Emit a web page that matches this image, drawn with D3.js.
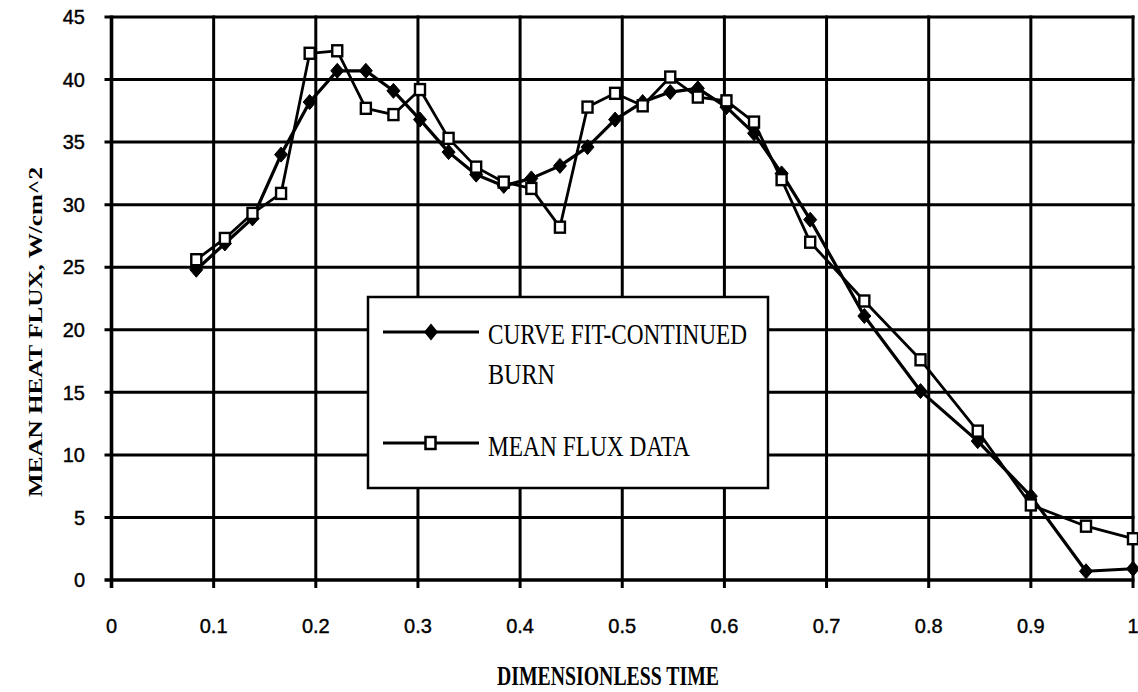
<!DOCTYPE html>
<html>
<head>
<meta charset="utf-8">
<script src="https://cdn.jsdelivr.net/npm/d3@7"></script>
<style>
  html, body { margin: 0; padding: 0; background: #fff; }
  svg { display: block; }
</style>
</head>
<body>
<svg id="chart" width="1138" height="692"></svg>
<script>
// Dimensionless time of each sample
const time = [0.083, 0.111, 0.138, 0.166, 0.194, 0.221, 0.249, 0.276, 0.302, 0.330,
              0.357, 0.384, 0.411, 0.439, 0.466, 0.493, 0.520, 0.547, 0.574, 0.602,
              0.629, 0.656, 0.684, 0.737, 0.792, 0.848, 0.900, 0.954, 1.000];
// Curve fit, continued burn (W/cm^2)
const curveFit = [24.8, 26.9, 28.9, 34.0, 38.2, 40.7, 40.7, 39.1, 36.8, 34.2,
                  32.4, 31.5, 32.1, 33.1, 34.6, 36.8, 38.2, 39.0, 39.3, 37.8,
                  35.7, 32.5, 28.8, 21.1, 15.1, 11.1, 6.7, 0.7, 0.9];
// Mean flux data (W/cm^2)
const meanFlux = [25.6, 27.3, 29.3, 30.9, 42.1, 42.3, 37.7, 37.2, 39.2, 35.3,
                  33.0, 31.8, 31.3, 28.2, 37.8, 38.9, 37.9, 40.2, 38.6, 38.3,
                  36.6, 32.0, 27.0, 22.3, 17.6, 11.9, 6.0, 4.3, 3.3];
const xTicks = [0, 0.1, 0.2, 0.3, 0.4, 0.5, 0.6, 0.7, 0.8, 0.9, 1];
const xTickLabels = ["0", "0.1", "0.2", "0.3", "0.4", "0.5", "0.6", "0.7", "0.8", "0.9", "1"];
const yTicks = [0, 5, 10, 15, 20, 25, 30, 35, 40, 45];
const seriesNames = ["CURVE FIT-CONTINUED", "BURN", "MEAN FLUX DATA"];

const svg = d3.select("#chart");
const plotLeft = 111.5, plotRight = 1133, plotTop = 17, plotBottom = 580;
const x = d3.scaleLinear().domain([0, 1]).range([plotLeft, plotRight]);
const y = d3.scaleLinear().domain([0, 45]).range([plotBottom, plotTop]);

const ink = "#000";
const sans = "'Liberation Sans', Arial, sans-serif";
const serif = "'Liberation Serif', 'Times New Roman', serif";

// Grid lines (vertical and horizontal) with short outside ticks
const grid = svg.append("g");
grid.append("g").selectAll("line").data(xTicks).join("line")
  .attr("x1", d => x(d)).attr("x2", d => x(d))
  .attr("y1", y(45) - 1.5).attr("y2", plotBottom + 8)
  .attr("stroke", ink).attr("stroke-width", d => d === 0 ? 3.6 : 3);
grid.append("g").selectAll("line").data(yTicks).join("line")
  .attr("y1", d => y(d)).attr("y2", d => y(d))
  .attr("x1", plotLeft - 7).attr("x2", plotRight + 1.5)
  .attr("stroke", ink).attr("stroke-width", d => d === 0 ? 3.4 : 3);

// Axis tick labels
svg.append("g").selectAll("text").data(xTicks).join("text")
  .attr("x", d => x(d)).attr("y", 633)
  .attr("text-anchor", "middle")
  .attr("font-family", sans).attr("font-size", 20).attr("fill", ink)
  .attr("stroke", ink).attr("stroke-width", 0.4)
  .text((d, i) => xTickLabels[i]);
svg.append("g").selectAll("text").data(yTicks).join("text")
  .attr("x", 85).attr("y", d => y(d) + 7.2)
  .attr("text-anchor", "end")
  .attr("font-family", sans).attr("font-size", 20).attr("fill", ink)
  .attr("stroke", ink).attr("stroke-width", 0.4)
  .text(d => d);

// Axis titles
svg.append("text")
  .attr("x", 497).attr("y", 685)
  .attr("font-family", serif).attr("font-weight", "bold").attr("font-size", 27)
  .attr("textLength", 222).attr("lengthAdjust", "spacingAndGlyphs")
  .attr("fill", ink).text("DIMENSIONLESS TIME");
svg.append("text")
  .attr("transform", "translate(42,497) rotate(-90)")
  .attr("font-family", serif).attr("font-weight", "bold").attr("font-size", 18.5)
  .attr("textLength", 330).attr("lengthAdjust", "spacingAndGlyphs")
  .attr("fill", ink).text("MEAN HEAT FLUX, W/cm^2");

// Series lines
const line = vals => d3.line().x((d, i) => x(time[i])).y(d => y(d))(vals);
const diamond = (hw, hh) => `M0,${-hh}L${hw},0L0,${hh}L${-hw},0Z`;

svg.append("path").attr("d", line(curveFit))
  .attr("fill", "none").attr("stroke", ink).attr("stroke-width", 3.2)
  .attr("stroke-linejoin", "round");
svg.append("g").selectAll("path").data(curveFit).join("path")
  .attr("transform", (d, i) => `translate(${x(time[i])},${y(d)})`)
  .attr("d", diamond(6.5, 7.5)).attr("fill", ink)
  .attr("stroke", ink).attr("stroke-width", 1).attr("stroke-linejoin", "round");

svg.append("path").attr("d", line(meanFlux))
  .attr("fill", "none").attr("stroke", ink).attr("stroke-width", 2.8)
  .attr("stroke-linejoin", "round");
svg.append("g").selectAll("rect").data(meanFlux).join("rect")
  .attr("x", (d, i) => x(time[i]) - 5).attr("y", d => y(d) - 5.5)
  .attr("width", 10).attr("height", 11)
  .attr("fill", "#fff").attr("stroke", ink).attr("stroke-width", 2.4);

// Legend
const lg = svg.append("g");
lg.append("rect").attr("x", 368).attr("y", 297).attr("width", 400).attr("height", 191)
  .attr("fill", "#fff").attr("stroke", ink).attr("stroke-width", 2.5);
lg.append("line").attr("x1", 383).attr("x2", 479).attr("y1", 332).attr("y2", 332)
  .attr("stroke", ink).attr("stroke-width", 3);
lg.append("path").attr("transform", "translate(431,332)").attr("d", diamond(7, 8.5)).attr("fill", ink);
lg.append("line").attr("x1", 383).attr("x2", 479).attr("y1", 443).attr("y2", 443)
  .attr("stroke", ink).attr("stroke-width", 3);
lg.append("rect").attr("x", 425.5).attr("y", 437).attr("width", 10).attr("height", 12)
  .attr("fill", "#fff").attr("stroke", ink).attr("stroke-width", 2.5);

const legendText = [
  { t: seriesNames[0], yb: 343.5, w: 259 },
  { t: seriesNames[1], yb: 383.5, w: 67 },
  { t: seriesNames[2], yb: 455.5, w: 202 }
];
lg.selectAll("text").data(legendText).join("text")
  .attr("x", 488).attr("y", d => d.yb)
  .attr("font-family", serif).attr("font-size", 29)
  .attr("textLength", d => d.w).attr("lengthAdjust", "spacingAndGlyphs")
  .attr("fill", ink).text(d => d.t);
</script>
</body>
</html>
